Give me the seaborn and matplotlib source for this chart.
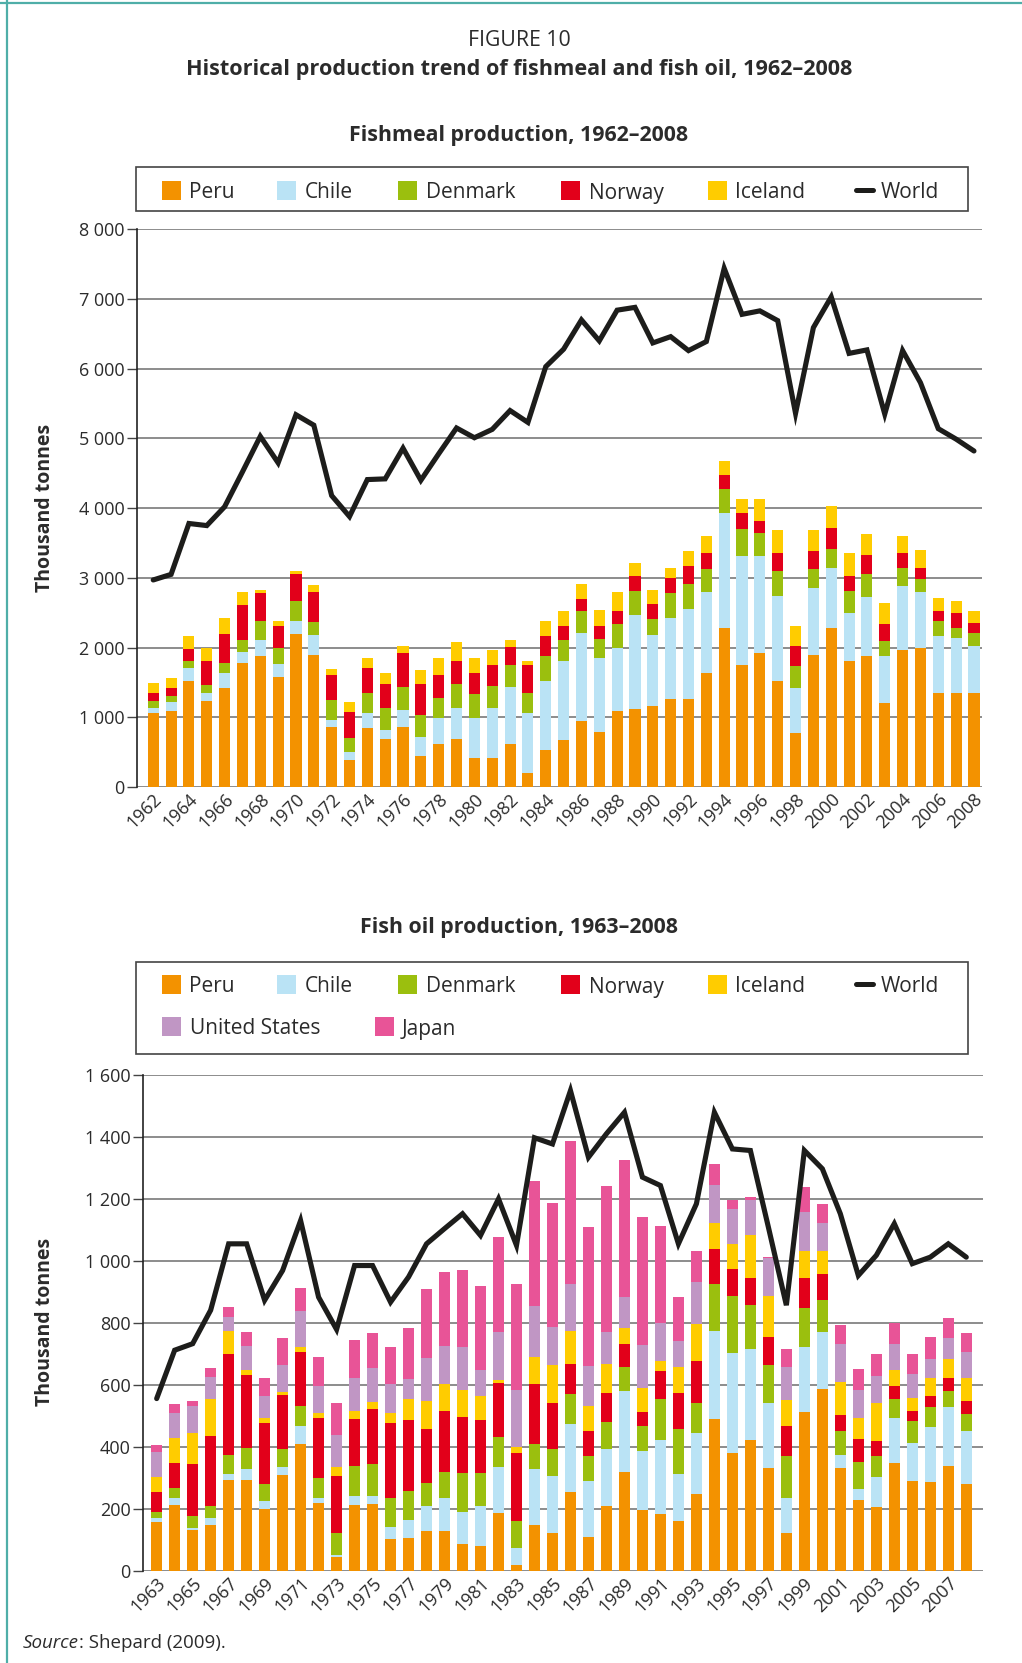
import numpy as np
import matplotlib
matplotlib.use("Agg")
import matplotlib.pyplot as plt
import matplotlib.transforms as mtransforms
from matplotlib.patches import Rectangle
from matplotlib.lines import Line2D
import seaborn as sns

# --- Fishmeal production (thousand tonnes), 1962-2008 ---
fm_years = list(range(1962, 2009))
fm_peru = [1062, 1091, 1522, 1234, 1421, 1780, 1880, 1579, 2196, 1895,
           861, 388, 847, 689, 861, 445, 617, 689, 416, 416,
           617, 201, 531, 675, 947, 789, 1091, 1120, 1163, 1263,
           1263, 1636, 2282, 1751, 1923, 1522, 775, 1895, 2282, 1809,
           1880, 1206, 1967, 1995, 1349, 1349, 1349]
fm_chile = [72, 129, 186, 115, 215, 158, 230, 187, 187, 287,
            101, 114, 215, 129, 244, 273, 373, 445, 574, 718,
            818, 861, 991, 1134, 1264, 1063, 904, 1349, 1019, 1163,
            1292, 1163, 1651, 1565, 1393, 1220, 646, 961, 862, 689,
            847, 674, 918, 804, 818, 790, 675]
fm_denmark = [105, 86, 101, 110, 139, 172, 273, 229, 287, 186,
              287, 201, 287, 316, 330, 315, 288, 344, 345, 316,
              316, 287, 358, 301, 315, 272, 345, 344, 229, 359,
              359, 330, 345, 387, 330, 358, 316, 273, 272, 315,
              330, 216, 259, 187, 216, 143, 187]
fm_norway = [115, 120, 172, 350, 421, 502, 402, 316, 387, 431,
             359, 374, 359, 344, 488, 445, 330, 331, 301, 301,
             259, 402, 287, 201, 173, 187, 186, 216, 216, 215,
             258, 230, 200, 230, 172, 259, 287, 259, 302, 216,
             273, 244, 215, 158, 143, 216, 143]
fm_iceland = [139, 139, 186, 186, 230, 187, 43, 72, 43, 101,
              86, 143, 144, 158, 101, 201, 244, 272, 216, 216,
              100, 58, 216, 215, 215, 230, 273, 186, 201, 144,
              216, 244, 201, 201, 316, 330, 287, 301, 315, 330,
              302, 301, 244, 258, 187, 172, 172]
fm_world = [2970, 3050, 3780, 3750, 4020, 4520, 5030, 4650, 5340, 5190,
            4180, 3880, 4410, 4420, 4860, 4400, 4780, 5150, 5010, 5130,
            5400, 5230, 6030, 6280, 6700, 6400, 6840, 6880, 6370, 6460,
            6260, 6390, 7440, 6780, 6830, 6690, 5360, 6590, 7030, 6220,
            6270, 5350, 6260, 5800, 5140, 4990, 4820]

# --- Fish oil production (thousand tonnes), 1963-2008 ---
fo_years = list(range(1963, 2009))
fo_peru = [157, 211, 131, 147, 292, 292, 199, 308, 408, 218,
           44, 211, 215, 102, 105, 128, 128, 86, 79, 186,
           18, 147, 121, 253, 108, 208, 318, 195, 183, 160,
           247, 488, 379, 421, 331, 121, 511, 585, 331, 228,
           205, 347, 289, 286, 337, 279]
fo_chile = [13, 23, 6, 23, 19, 35, 25, 26, 58, 16,
            6, 29, 25, 39, 58, 80, 106, 103, 129, 148,
            55, 180, 184, 219, 181, 184, 261, 190, 238, 151,
            196, 284, 322, 293, 209, 113, 209, 184, 42, 35,
            97, 145, 122, 177, 190, 171]
fo_denmark = [19, 32, 39, 38, 62, 68, 55, 58, 64, 64,
              71, 97, 104, 93, 94, 74, 84, 126, 107, 97,
              87, 81, 87, 97, 80, 87, 77, 81, 132, 145,
              97, 151, 184, 142, 122, 135, 126, 103, 77, 87,
              67, 61, 71, 64, 52, 55]
fo_norway = [64, 81, 168, 226, 325, 235, 197, 174, 174, 194,
             184, 151, 177, 242, 228, 174, 196, 180, 170, 173,
             219, 193, 148, 97, 81, 93, 74, 45, 90, 116,
             135, 113, 87, 87, 91, 97, 97, 84, 51, 74,
             49, 42, 32, 36, 42, 41]
fo_iceland = [49, 80, 99, 119, 74, 16, 16, 9, 16, 16,
              29, 26, 22, 32, 68, 90, 87, 87, 78, 10,
              19, 87, 122, 106, 80, 94, 52, 77, 32, 84,
              119, 84, 83, 141, 132, 84, 87, 74, 107, 68,
              122, 51, 42, 58, 61, 75]
fo_us = [80, 81, 87, 71, 45, 78, 71, 87, 116, 87,
         103, 107, 110, 93, 64, 139, 123, 138, 83, 155,
         184, 164, 123, 151, 129, 103, 99, 139, 123, 84,
         136, 125, 110, 110, 122, 106, 128, 90, 122, 90,
         87, 84, 77, 61, 67, 83]
fo_japan = [23, 29, 16, 29, 32, 45, 58, 87, 74, 93,
            103, 122, 112, 119, 165, 222, 238, 248, 271, 306,
            341, 403, 402, 464, 448, 473, 442, 412, 312, 141,
            100, 68, 29, 10, 6, 58, 78, 61, 61, 68,
            71, 68, 65, 71, 65, 61]
fo_world = [555, 711, 732, 840, 1054, 1054, 872, 968, 1129, 882,
            778, 984, 984, 866, 947, 1054, 1103, 1151, 1081, 1199,
            1049, 1396, 1376, 1548, 1333, 1409, 1478, 1269, 1242, 1054,
            1183, 1478, 1360, 1355, 1108, 856, 1355, 1296, 1151, 952,
            1017, 1119, 990, 1011, 1054, 1011]

countries = ["Peru", "Chile", "Denmark", "Norway", "Iceland", "United States", "Japan"]
colors = {"Peru": "#F39200", "Chile": "#BAE3F5", "Denmark": "#9BBF0E",
          "Norway": "#E2001A", "Iceland": "#FFCC00", "United States": "#C096C4",
          "Japan": "#E85497"}
WORLD = "#1D1D1B"
TEXT = "#2b2b2b"

W, H = 1022, 1663

sns.set_theme(style="white")
plt.rcParams["font.family"] = ["Open Sans", "DejaVu Sans"]

fig = plt.figure(figsize=(W / 100, H / 100), dpi=100)


def px_axes(left, top, right, bottom):
    return fig.add_axes([left / W, 1 - bottom / H, (right - left) / W, (bottom - top) / H])


def stacked_chart(ax, years, layers, names, world, ymax, step, xlim, first_label):
    cum = np.cumsum(np.array(layers, dtype=float), axis=0)
    # draw the running totals from the top down so each layer shows its own slice
    for i in range(len(layers) - 1, -1, -1):
        sns.barplot(x=years, y=cum[i], color=colors[names[i]], width=0.62,
                    saturation=1, linewidth=0, ax=ax, zorder=2)
    sns.lineplot(x=np.arange(len(years)), y=world, color=WORLD, linewidth=3.7,
                 solid_joinstyle="miter", ax=ax, zorder=5)

    ax.set_ylim(0, ymax)
    ax.set_xlim(*xlim)
    ticks = np.arange(0, ymax + 1, step)
    ax.set_yticks(ticks)
    ax.set_yticklabels([f"{t:,}".replace(",", " ") for t in ticks])
    ax.yaxis.grid(True, color="#6e6e6e", linewidth=1.1)
    ax.xaxis.grid(False)
    ax.set_axisbelow(True)
    for s in ["top", "right", "bottom"]:
        ax.spines[s].set_visible(False)
    ax.spines["left"].set_color("#222222")
    ax.spines["left"].set_linewidth(1.2)
    ax.tick_params(axis="y", left=True, length=7, width=1, color="#444444",
                   labelsize=13, labelcolor=TEXT, pad=2)

    idx = [i for i, y in enumerate(years) if (y - first_label) % 2 == 0]
    ax.set_xticks(idx)
    ax.set_xticklabels([str(years[i]) for i in idx], rotation=45, ha="right",
                       va="center", rotation_mode="anchor")
    ax.tick_params(axis="x", bottom=False, length=0, labelsize=13,
                   labelcolor=TEXT, pad=7)
    shift = mtransforms.ScaledTranslation(6 / 100, 0, fig.dpi_scale_trans)
    for lab in ax.get_xticklabels():
        lab.set_transform(lab.get_transform() + shift)
    ax.set_xlabel("")
    ax.set_ylabel("")


ax1 = px_axes(137, 229.3, 982, 787)
stacked_chart(ax1, fm_years, [fm_peru, fm_chile, fm_denmark, fm_norway, fm_iceland],
              countries[:5], fm_world, 8000, 1000, (-0.91, 46.45), 1962)

ax2 = px_axes(143, 1074.5, 983, 1570.7)
stacked_chart(ax2, fo_years,
              [fo_peru, fo_chile, fo_denmark, fo_norway, fo_iceland, fo_us, fo_japan],
              countries, fo_world, 1600, 200, (-0.76, 45.93), 1963)

# overlay in pixel coordinates for titles, legends and frame
ov = fig.add_axes([0, 0, 1, 1], zorder=10)
ov.set_xlim(0, W)
ov.set_ylim(H, 0)
ov.axis("off")
ov.patch.set_alpha(0)

# teal frame
ov.add_line(Line2D([0, W], [2.5, 2.5], color="#4FAEA8", linewidth=1.6))
ov.add_line(Line2D([6.5, 6.5], [0, H], color="#4FAEA8", linewidth=1.6))

ov.text(519, 41, "FIGURE 10", ha="center", va="center", fontsize=15.3, color=TEXT)
ov.text(519, 69, "Historical production trend of fishmeal and fish oil, 1962\u20132008",
        ha="center", va="center", fontsize=15.6, weight="bold", color=TEXT)
ov.text(519, 136, "Fishmeal production, 1962\u20132008", ha="center", va="center",
        fontsize=15.4, weight="bold", color=TEXT)
ov.text(519, 928, "Fish oil production, 1963\u20132008", ha="center", va="center",
        fontsize=15.4, weight="bold", color=TEXT)


def legend_box(top, bottom, rows):
    ov.add_patch(Rectangle((136, top), 832, bottom - top, fill=False,
                           edgecolor="#444444", linewidth=1.2))
    for yc, entries in rows:
        for name, xp, xt in entries:
            if name == "World":
                ov.add_line(Line2D([xp, xp + 17], [yc, yc], color=WORLD, linewidth=3.6))
            else:
                ov.add_patch(Rectangle((xp, yc - 9.5), 19, 19, color=colors[name], linewidth=0))
            ov.text(xt, yc + 3, name, ha="left", va="center", fontsize=15, color=TEXT)


row_main = [("Peru", 161.7, 189), ("Chile", 277, 305), ("Denmark", 398, 426),
            ("Norway", 561, 589), ("Iceland", 708, 735), ("World", 856, 881)]
legend_box(166.7, 210.7, [(190, row_main)])
legend_box(961.7, 1054, [(984, row_main),
                         (1026, [("United States", 161.7, 190), ("Japan", 375, 402)])])

ov.text(45, 508, "Thousand tonnes", rotation=90, ha="center", va="center",
        fontsize=14, weight="bold", color=TEXT)
ov.text(45, 1322, "Thousand tonnes", rotation=90, ha="center", va="center",
        fontsize=14, weight="bold", color=TEXT)

src = ov.text(23, 1643, "Source", ha="left", va="center", fontsize=13.5,
              style="italic", color=TEXT)
fig.canvas.draw()
bb = src.get_window_extent()
x_end = ov.transData.inverted().transform((bb.x1, bb.y0))[0]
ov.text(x_end, 1643, ": Shepard (2009).", ha="left", va="center", fontsize=13.5, color=TEXT)

fig.savefig("out.png", dpi=100)
